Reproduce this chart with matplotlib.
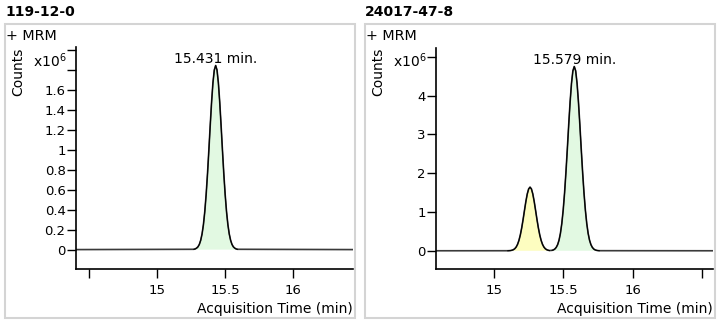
import matplotlib
matplotlib.use("Agg")
import matplotlib.pyplot as plt
from matplotlib.patches import Rectangle

plt.rcParams['font.family'] = ['DejaVu Sans']

W, H = 719, 323

# panel titles and peak labels
titles = ['119-12-0', '24017-47-8']
peak_labels = ['15.431 min.', '15.579 min.']

# left chromatogram (counts x10^6)
t_a = [15.271, 15.281, 15.291, 15.301, 15.311, 15.321, 15.331, 15.341, 15.351,
       15.361, 15.371, 15.381, 15.391, 15.401, 15.411, 15.421, 15.431,
       15.441, 15.451, 15.461, 15.471, 15.481, 15.491, 15.501, 15.511,
       15.521, 15.531, 15.541, 15.551, 15.561, 15.571, 15.581, 15.591]
y_a = [0.003, 0.007, 0.015, 0.028, 0.052, 0.093, 0.156, 0.249, 0.379,
       0.549, 0.756, 0.993, 1.24, 1.473, 1.667, 1.795, 1.84,
       1.795, 1.667, 1.473, 1.24, 0.993, 0.756, 0.549, 0.379,
       0.249, 0.156, 0.093, 0.052, 0.028, 0.015, 0.007, 0.003]

# right chromatogram: small (yellow) peak and main (green) peak
t_b1 = [15.10, 15.11, 15.12, 15.13, 15.14, 15.15, 15.16, 15.17, 15.18,
        15.19, 15.20, 15.21, 15.22, 15.23, 15.24, 15.25, 15.26,
        15.27, 15.28, 15.29, 15.30, 15.31, 15.32, 15.33, 15.34,
        15.35, 15.36, 15.37, 15.38, 15.39, 15.40]
y_b1 = [0.001, 0.003, 0.006, 0.014, 0.028, 0.053, 0.096, 0.165, 0.267,
        0.409, 0.591, 0.807, 1.042, 1.271, 1.464, 1.594, 1.64,
        1.594, 1.464, 1.271, 1.042, 0.807, 0.591, 0.409, 0.267,
        0.165, 0.096, 0.053, 0.028, 0.014, 0.006]
t_b2 = [15.419, 15.429, 15.439, 15.449, 15.459, 15.469, 15.479, 15.489,
        15.499, 15.509, 15.519, 15.529, 15.539, 15.549, 15.559, 15.569,
        15.579, 15.589, 15.599, 15.609, 15.619, 15.629, 15.639, 15.649,
        15.659, 15.669, 15.679, 15.689, 15.699, 15.709, 15.719, 15.729,
        15.739, 15.749, 15.759]
y_b2 = [0.011, 0.023, 0.046, 0.088, 0.158, 0.272, 0.447, 0.701,
        1.047, 1.492, 2.03, 2.632, 3.26, 3.84, 4.32, 4.639,
        4.75, 4.639, 4.32, 3.84, 3.26, 2.632, 2.03, 1.492,
        1.047, 0.701, 0.447, 0.272, 0.158, 0.088, 0.046, 0.023,
        0.011, 0.005, 0.002]

# axis ranges and ticks
xlim_a, ylim_a = (14.404, 16.441), (-0.194, 2.02)
xlim_b, ylim_b = (14.582, 16.577), (-0.47, 5.24)
xticks_a = [14.5, 15, 15.5, 16]
xlabels_a = ['', '15', '15.5', '16']
xticks_b = [15, 15.5, 16, 16.5]
xlabels_b = ['15', '15.5', '16', '']
yticks_a = [0, 0.2, 0.4, 0.6, 0.8, 1.0, 1.2, 1.4, 1.6, 1.8, 2.0]
ylabels_a = ['0', '0.2', '0.4', '0.6', '0.8', '1', '1.2', '1.4', '1.6', '', '']
yticks_b = [0, 1, 2, 3, 4, 5]
ylabels_b = ['0', '1', '2', '3', '4', '']

GREEN = '#e2f9e2'
YELLOW = '#fdfdc0'


def fx(x):
    return x / W


def fy(y):
    return 1 - y / H


fig = plt.figure(figsize=(W / 100, H / 100), dpi=100)


def panel(x0, left, right, xlim, ylim, xt, xl, yt, yl, peaks, label_peak, title, plabel):
    # grey frame around the panel
    fig.patches.append(Rectangle((fx(x0), fy(318)), fx(350), (318 - 24) / H,
                                 transform=fig.transFigure, fill=False,
                                 edgecolor='#d4d4d4', linewidth=1.5))
    fig.text(fx(x0), fy(12), title, fontsize=10, fontweight='bold',
             ha='left', va='center')
    fig.text(fx(x0 + 1), fy(36), '+ MRM', fontsize=10.3, ha='left', va='center')
    fig.text(fx(x0 + 13), fy(72), 'Counts', fontsize=10, rotation=90,
             ha='center', va='center')
    fig.text(fx(x0 + 28), fy(66.5), r'x10$^{6}$', fontsize=10,
             ha='left', va='baseline')

    ax = fig.add_axes([fx(left), fy(269), fx(right - left), (269 - 47.5) / H])
    ax.set_xlim(*xlim)
    ax.set_ylim(*ylim)
    for s in ['top', 'right']:
        ax.spines[s].set_visible(False)
    for s in ['left', 'bottom']:
        ax.spines[s].set_linewidth(1.2)
    ax.set_xticks(xt)
    ax.set_xticklabels(xl)
    ax.set_yticks(yt)
    ax.set_yticklabels(yl)
    ax.tick_params(length=6.5, width=1, labelsize=9.5, pad=1)
    ax.tick_params(axis='x', pad=4)
    ax.set_xlabel('Acquisition Time (min)', fontsize=10, loc='right', labelpad=4)

    # full trace: flat baseline plus peaks
    tt = [xlim[0]]
    yy = [0]
    for t, y, c in peaks:
        tt += t
        yy += y
    tt.append(xlim[1])
    yy.append(0)
    ax.plot(tt, yy, color='#3a3a3a', linewidth=1.2, zorder=2)
    for t, y, c in peaks:
        ax.fill_between(t, 0, y, facecolor=c, edgecolor='none', zorder=1)
        ax.plot(t, y, color='black', linewidth=0.8, zorder=3)

    t, y, c = label_peak
    i = y.index(max(y))
    ax.text(t[i], y[i], plabel, fontsize=10, ha='center', va='bottom')
    return ax


panel(5, 76, 353, xlim_a, ylim_a, xticks_a, xlabels_a, yticks_a, ylabels_a,
      [(t_a, y_a, GREEN)], (t_a, y_a, GREEN), titles[0], peak_labels[0])
panel(365, 436, 712.7, xlim_b, ylim_b, xticks_b, xlabels_b, yticks_b, ylabels_b,
      [(t_b1, y_b1, YELLOW), (t_b2, y_b2, GREEN)], (t_b2, y_b2, GREEN),
      titles[1], peak_labels[1])

fig.savefig('out.png', dpi=100)
